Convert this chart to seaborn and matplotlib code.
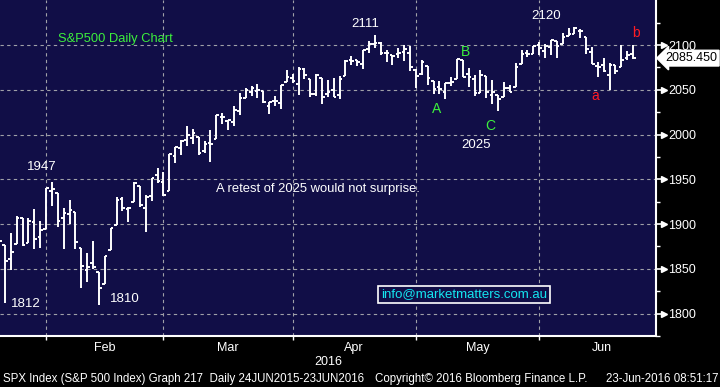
import pandas as pd
import matplotlib.pyplot as plt
import matplotlib.transforms as mtransforms
import seaborn as sns

# S&P 500 daily bars, 19 Jan 2016 - 22 Jun 2016
dates = [
    '2016-01-19', '2016-01-20', '2016-01-21', '2016-01-22', '2016-01-25', '2016-01-26', '2016-01-27',
    '2016-01-28', '2016-01-29',
    '2016-02-01', '2016-02-02', '2016-02-03', '2016-02-04', '2016-02-05', '2016-02-08', '2016-02-09',
    '2016-02-10', '2016-02-11', '2016-02-12', '2016-02-16', '2016-02-17', '2016-02-18', '2016-02-19',
    '2016-02-22', '2016-02-23', '2016-02-24', '2016-02-25', '2016-02-26', '2016-02-29',
    '2016-03-01', '2016-03-02', '2016-03-03', '2016-03-04', '2016-03-07', '2016-03-08', '2016-03-09',
    '2016-03-10', '2016-03-11', '2016-03-14', '2016-03-15', '2016-03-16', '2016-03-17', '2016-03-18',
    '2016-03-21', '2016-03-22', '2016-03-23', '2016-03-24', '2016-03-28', '2016-03-29', '2016-03-30',
    '2016-03-31',
    '2016-04-01', '2016-04-04', '2016-04-05', '2016-04-06', '2016-04-07', '2016-04-08', '2016-04-11',
    '2016-04-12', '2016-04-13', '2016-04-14', '2016-04-15', '2016-04-18', '2016-04-19', '2016-04-20',
    '2016-04-21', '2016-04-22', '2016-04-25', '2016-04-26', '2016-04-27', '2016-04-28', '2016-04-29',
    '2016-05-02', '2016-05-03', '2016-05-04', '2016-05-05', '2016-05-06', '2016-05-09', '2016-05-10',
    '2016-05-11', '2016-05-12', '2016-05-13', '2016-05-16', '2016-05-17', '2016-05-18', '2016-05-19',
    '2016-05-20', '2016-05-23', '2016-05-24', '2016-05-25', '2016-05-26', '2016-05-27', '2016-05-31',
    '2016-06-01', '2016-06-02', '2016-06-03', '2016-06-06', '2016-06-07', '2016-06-08', '2016-06-09',
    '2016-06-10', '2016-06-13', '2016-06-14', '2016-06-15', '2016-06-16', '2016-06-17', '2016-06-20',
    '2016-06-21', '2016-06-22',
]
opens = [
    1888.66, 1876.18, 1861.46, 1877.40, 1906.28, 1878.79, 1902.52, 1885.22, 1894.00,
    1936.94, 1935.26, 1907.07, 1911.67, 1913.07, 1873.25, 1848.46, 1857.10, 1847.00, 1833.40,
    1871.44, 1898.80, 1927.57, 1916.74, 1924.44, 1942.38, 1917.56, 1931.87, 1954.95, 1947.13,
    1937.09, 1976.60, 1985.60, 1994.01, 1996.11, 1996.88, 1981.44, 1990.97, 1994.71, 2019.27,
    2015.27, 2014.24, 2026.90, 2041.16, 2047.88, 2048.64, 2048.55, 2032.48, 2037.89, 2035.75,
    2058.27, 2063.77,
    2056.62, 2073.19, 2062.50, 2045.56, 2063.01, 2045.54, 2050.23, 2043.72, 2065.92, 2082.89,
    2083.10, 2078.83, 2096.05, 2101.52, 2102.09, 2091.49, 2089.37, 2089.84, 2092.57, 2090.93,
    2071.82,
    2067.17, 2077.18, 2060.30, 2052.95, 2047.77, 2057.55, 2062.63, 2083.29, 2067.17, 2062.50,
    2046.53, 2065.04, 2044.38, 2044.21, 2041.88, 2052.23, 2052.65, 2078.93, 2091.44, 2090.06,
    2100.13,
    2093.94, 2097.71, 2104.07, 2100.83, 2110.18, 2112.71, 2115.65, 2109.57, 2091.75, 2076.65,
    2077.60, 2066.36, 2077.99, 2075.58, 2085.19, 2089.75,
]
highs = [
    1901.44, 1876.18, 1889.85, 1908.85, 1906.28, 1906.73, 1916.99, 1902.96, 1940.24,
    1947.20, 1935.26, 1918.01, 1927.35, 1913.07, 1873.25, 1868.25, 1881.60, 1847.00, 1864.78,
    1895.77, 1930.68, 1930.00, 1918.78, 1946.70, 1942.38, 1932.08, 1951.83, 1962.96, 1958.27,
    1978.35, 1986.51, 1993.69, 2009.13, 2006.12, 1996.88, 1992.69, 2005.08, 2022.37, 2024.57,
    2015.94, 2032.02, 2046.24, 2052.36, 2053.91, 2056.60, 2048.55, 2036.04, 2042.67, 2055.91,
    2072.21, 2067.92,
    2075.07, 2074.02, 2062.50, 2067.33, 2063.01, 2060.63, 2062.93, 2065.05, 2083.18, 2087.84,
    2083.22, 2094.66, 2104.05, 2111.05, 2103.78, 2094.32, 2089.37, 2096.87, 2099.89, 2099.30,
    2073.85,
    2083.42, 2077.18, 2060.30, 2060.23, 2057.72, 2064.15, 2084.87, 2083.29, 2073.99, 2066.79,
    2071.88, 2065.69, 2060.61, 2044.21, 2058.35, 2055.58, 2079.67, 2094.73, 2094.30, 2099.06,
    2103.48,
    2100.97, 2105.26, 2104.07, 2113.36, 2119.22, 2120.55, 2117.64, 2109.57, 2098.12, 2081.30,
    2085.65, 2079.62, 2077.99, 2100.66, 2093.66, 2099.71,
]
lows = [
    1864.60, 1812.29, 1848.98, 1877.40, 1875.97, 1878.79, 1872.70, 1873.65, 1894.00,
    1920.03, 1897.29, 1872.23, 1900.52, 1872.65, 1828.46, 1834.94, 1850.32, 1810.10, 1833.40,
    1871.44, 1898.80, 1915.09, 1902.17, 1924.44, 1919.44, 1891.00, 1925.41, 1945.78, 1931.81,
    1937.09, 1968.80, 1977.37, 1986.77, 1989.38, 1977.43, 1979.84, 1969.25, 1994.71, 2012.05,
    2005.23, 2010.04, 2022.16, 2041.16, 2043.14, 2040.57, 2034.86, 2022.49, 2031.96, 2028.31,
    2058.27, 2057.46,
    2043.98, 2062.57, 2042.56, 2043.09, 2033.80, 2041.69, 2041.88, 2039.74, 2065.92, 2078.13,
    2076.31, 2073.65, 2091.68, 2096.32, 2088.52, 2081.20, 2077.52, 2085.80, 2082.31, 2071.62,
    2052.28,
    2066.11, 2054.89, 2045.55, 2045.77, 2039.45, 2054.31, 2062.63, 2064.46, 2053.13, 2043.13,
    2046.53, 2040.82, 2034.49, 2025.91, 2041.88, 2047.26, 2052.65, 2078.93, 2087.08, 2090.06,
    2088.66,
    2085.10, 2088.59, 2085.36, 2100.83, 2110.18, 2112.71, 2107.73, 2089.96, 2078.46, 2064.10,
    2069.80, 2050.37, 2067.17, 2075.58, 2083.02, 2084.36,
]
closes = [
    1881.33, 1859.33, 1868.99, 1906.90, 1877.08, 1903.63, 1882.95, 1893.36, 1940.24,
    1939.38, 1903.03, 1912.53, 1915.45, 1880.05, 1853.44, 1852.21, 1851.86, 1829.08, 1864.78,
    1895.58, 1926.82, 1917.83, 1917.78, 1945.50, 1921.27, 1929.80, 1951.70, 1948.05, 1932.23,
    1978.35, 1986.45, 1993.40, 1999.99, 2001.76, 1979.26, 1989.26, 1989.57, 2022.19, 2019.64,
    2015.93, 2027.22, 2040.59, 2049.58, 2051.60, 2049.80, 2036.71, 2035.94, 2037.05, 2055.01,
    2063.95, 2059.74,
    2072.78, 2066.13, 2045.17, 2066.66, 2041.91, 2047.60, 2041.99, 2061.72, 2082.42, 2082.78,
    2080.73, 2094.34, 2100.80, 2102.40, 2091.48, 2091.58, 2087.79, 2091.70, 2095.15, 2075.81,
    2065.30,
    2081.43, 2063.37, 2051.12, 2050.63, 2057.14, 2058.69, 2084.39, 2064.46, 2064.11, 2046.61,
    2066.66, 2047.21, 2047.63, 2040.04, 2052.32, 2048.04, 2076.06, 2090.54, 2090.10, 2099.06,
    2096.95,
    2099.33, 2105.26, 2099.13, 2109.41, 2112.13, 2119.12, 2115.48, 2096.07, 2079.06, 2075.32,
    2071.50, 2077.99, 2071.22, 2083.25, 2088.90, 2085.45,
]
month_labels = ['Feb', 'Mar', 'Apr', 'May', 'Jun']
y_ticks = [1800, 1850, 1900, 1950, 2000, 2050, 2100]
last_price = 2085.45

BG = '#110e47'
GREEN = '#3cf03c'
RED = '#ff1c24'
CYAN = '#14e6f0'


def main():
    df = pd.DataFrame({'date': pd.to_datetime(dates), 'open': opens, 'high': highs,
                       'low': lows, 'close': closes})
    df['i'] = range(len(df))

    sns.set_style('dark', {'axes.facecolor': BG, 'figure.facecolor': 'black'})
    plt.rcParams['font.family'] = ['Liberation Sans', 'DejaVu Sans']

    fig = plt.figure(figsize=(7.2, 3.87), dpi=100)
    ax = fig.add_axes([0, 51 / 387, 656 / 720, 336 / 387])
    ax.set_facecolor(BG)

    # OHLC bars
    w = 0.45
    ax.vlines(df['i'], df['low'], df['high'], color='white', lw=1.4)
    ax.hlines(df['open'], df['i'] - w, df['i'], color='white', lw=1.4)
    ax.hlines(df['close'], df['i'], df['i'] + w, color='white', lw=1.4)

    ax.set_xlim(0.15, 111.9)
    ax.set_ylim(1779.4, 2150.4)

    # month boundaries = last trading day of each month
    month = df['date'].dt.month
    ends = df.groupby(month)['i'].max().tolist()[:-1]
    centers = [(a + b) / 2 for a, b in zip(ends, ends[1:] + [113.4])]
    ax.set_xticks(ends)
    ax.set_xticklabels([])
    ax.set_xticks(centers, minor=True)
    ax.set_xticklabels(month_labels, minor=True)
    ax.tick_params(axis='x', which='major', direction='out', length=3, width=1,
                   color='white', bottom=True)
    ax.tick_params(axis='x', which='minor', length=0, pad=4, labelsize=9, labelcolor='white')

    ax.yaxis.tick_right()
    ax.set_yticks(y_ticks)
    ax.set_yticks([t + 25 for t in y_ticks[:-1]] + [1775, 2125], minor=True)
    ax.tick_params(axis='y', which='major', direction='out', length=5, width=1.2,
                   color='white', labelsize=9, labelcolor='white', pad=4, right=True)
    ax.tick_params(axis='y', which='minor', direction='out', length=3, width=1,
                   color='white', right=True)
    tr = mtransforms.blended_transform_factory(ax.transAxes, ax.transData)
    ax.plot([1.012] * len(y_ticks), y_ticks, ls='', marker='>', ms=5, color='white',
            transform=tr, clip_on=False)

    ax.grid(True, which='major', color='#a0a0a8', ls=(0, (3, 3)), lw=0.8)
    for s in ['top', 'left']:
        ax.spines[s].set_visible(False)
    for s in ['bottom', 'right']:
        ax.spines[s].set_visible(True)
        ax.spines[s].set_color('white')
        ax.spines[s].set_linewidth(1.5)

    # last price tag
    ax.text(1.014, last_price, f'{last_price:.3f}', transform=tr, ha='left', va='center',
            fontsize=9, color='black', clip_on=False,
            bbox=dict(boxstyle='larrow,pad=0.15', fc='white', ec='white'))

    # annotations
    ax.text(10.0, 2107.3, 'S&P500 Daily Chart', color=GREEN, fontsize=9.3, va='center')
    for x, y, s in [(7.3, 1963.9, '1947'), (4.5, 1810.3, '1812'), (21.4, 1816.2, '1810'),
                    (62.3, 2124.0, '2111'), (81.2, 1988.5, '2025'), (93.1, 2132.8, '2120')]:
        ax.text(x, y, s, color='white', fontsize=9.5, ha='center', va='center')
    ax.text(36.9, 1939.0, 'A retest of 2025 would not surprise.', color='white',
            fontsize=9.4, va='center')
    for x, y, s in [(74.6, 2029.0, 'A'), (79.5, 2092.3, 'B'), (83.6, 2009.5, 'C')]:
        ax.text(x, y, s, color=GREEN, fontsize=10, ha='center', va='center')
    for x, y, s in [(101.5, 2043.7, 'a'), (108.5, 2113.7, 'b')]:
        ax.text(x, y, s, color=RED, fontsize=10, ha='center', va='center')
    ax.text(79.2, 1821.5, 'info@marketmatters.com.au', color=CYAN, fontsize=9.5,
            ha='center', va='center',
            bbox=dict(boxstyle='square,pad=0.2', fc=BG, ec='white', lw=1.2))

    # footer
    fig.text(328 / 720, 1 - 362 / 387, '2016', color='white', fontsize=9, ha='center', va='center')
    fig.text(3 / 720, 1 - 379 / 387, 'SPX Index (S&P 500 Index) Graph 217  Daily 24JUN2015-23JUN2016',
             color='white', fontsize=8.3, va='center')
    fig.text(375 / 720, 1 - 379 / 387, 'Copyright\u00a9 2016 Bloomberg Finance L.P.',
             color='white', fontsize=8.3, va='center')
    fig.text(719 / 720, 1 - 379 / 387, '23-Jun-2016 08:51:17', color='white', fontsize=8.3,
             ha='right', va='center')

    fig.savefig('out.png', dpi=100, facecolor='black')


if __name__ == '__main__':
    main()
